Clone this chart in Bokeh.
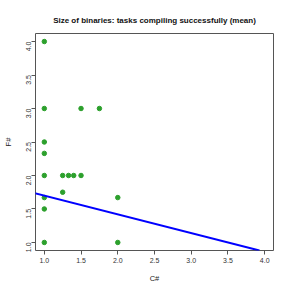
from bokeh.plotting import figure
from bokeh.models import Range1d, Slope, FixedTicker, NumeralTickFormatter
from bokeh.embed import file_html
from bokeh.resources import INLINE
import math

# Data: C# (x) vs F# (y) binary sizes, tasks compiling successfully (mean)
csharp = [1.0, 1.0, 1.5, 1.75, 1.0, 1.0, 1.0, 1.25, 1.33, 1.4, 1.5, 1.25, 1.0, 2.0, 1.0, 1.0, 2.0]
fsharp = [4.0, 3.0, 3.0, 3.0, 2.5, 2.33, 2.0, 2.0, 2.0, 2.0, 2.0, 1.75, 1.67, 1.67, 1.5, 1.0, 1.0]
fit_intercept = 1.98
fit_slope = -0.28
ticks = [1.0, 1.5, 2.0, 2.5, 3.0, 3.5, 4.0]

p = figure(width=285, height=285, output_backend="svg", toolbar_location=None,
           x_range=Range1d(0.88, 4.12), y_range=Range1d(0.88, 4.12),
           min_border_left=33, min_border_right=12, min_border_top=33, min_border_bottom=35,
           title="Size of binaries: tasks compiling successfully (mean)")
p.background_fill_color = "white"
p.border_fill_color = "white"
p.outline_line_color = "#555555"
p.outline_line_width = 1
p.grid.visible = False

p.title.align = "center"
p.title.text_font = "Liberation Sans"
p.title.text_font_style = "bold"
p.title.text_font_size = "8px"
p.title.text_color = "#111111"
p.title.standoff = 18

for ax in (p.xaxis[0], p.yaxis[0]):
    ax.ticker = FixedTicker(ticks=ticks)
    ax.formatter = NumeralTickFormatter(format="0.0")
    ax.bounds = (1.0, 4.0)
    ax.axis_line_color = "#555555"
    ax.major_tick_line_color = "#555555"
    ax.major_tick_out = 4
    ax.major_tick_in = 0
    ax.minor_tick_line_color = None
    ax.major_label_text_font = "Liberation Sans"
    ax.major_label_text_font_size = "7px"
    ax.major_label_text_color = "#333333"
    ax.major_label_standoff = 3
    ax.axis_label_text_font = "Liberation Sans"
    ax.axis_label_text_font_size = "7.5px"
    ax.axis_label_text_font_style = "normal"
    ax.axis_label_text_color = "#222222"
    ax.axis_label_standoff = 8
p.yaxis[0].major_label_orientation = math.pi / 2
p.xaxis[0].axis_label = "C#"
p.yaxis[0].axis_label = "F#"

p.scatter(csharp, fsharp, size=4.5, color="#2ca02c", line_color="#2ca02c")
p.add_layout(Slope(gradient=fit_slope, y_intercept=fit_intercept,
                   line_color="#0000ff", line_width=2))

open("out.html", "w").write(file_html(p, INLINE))
